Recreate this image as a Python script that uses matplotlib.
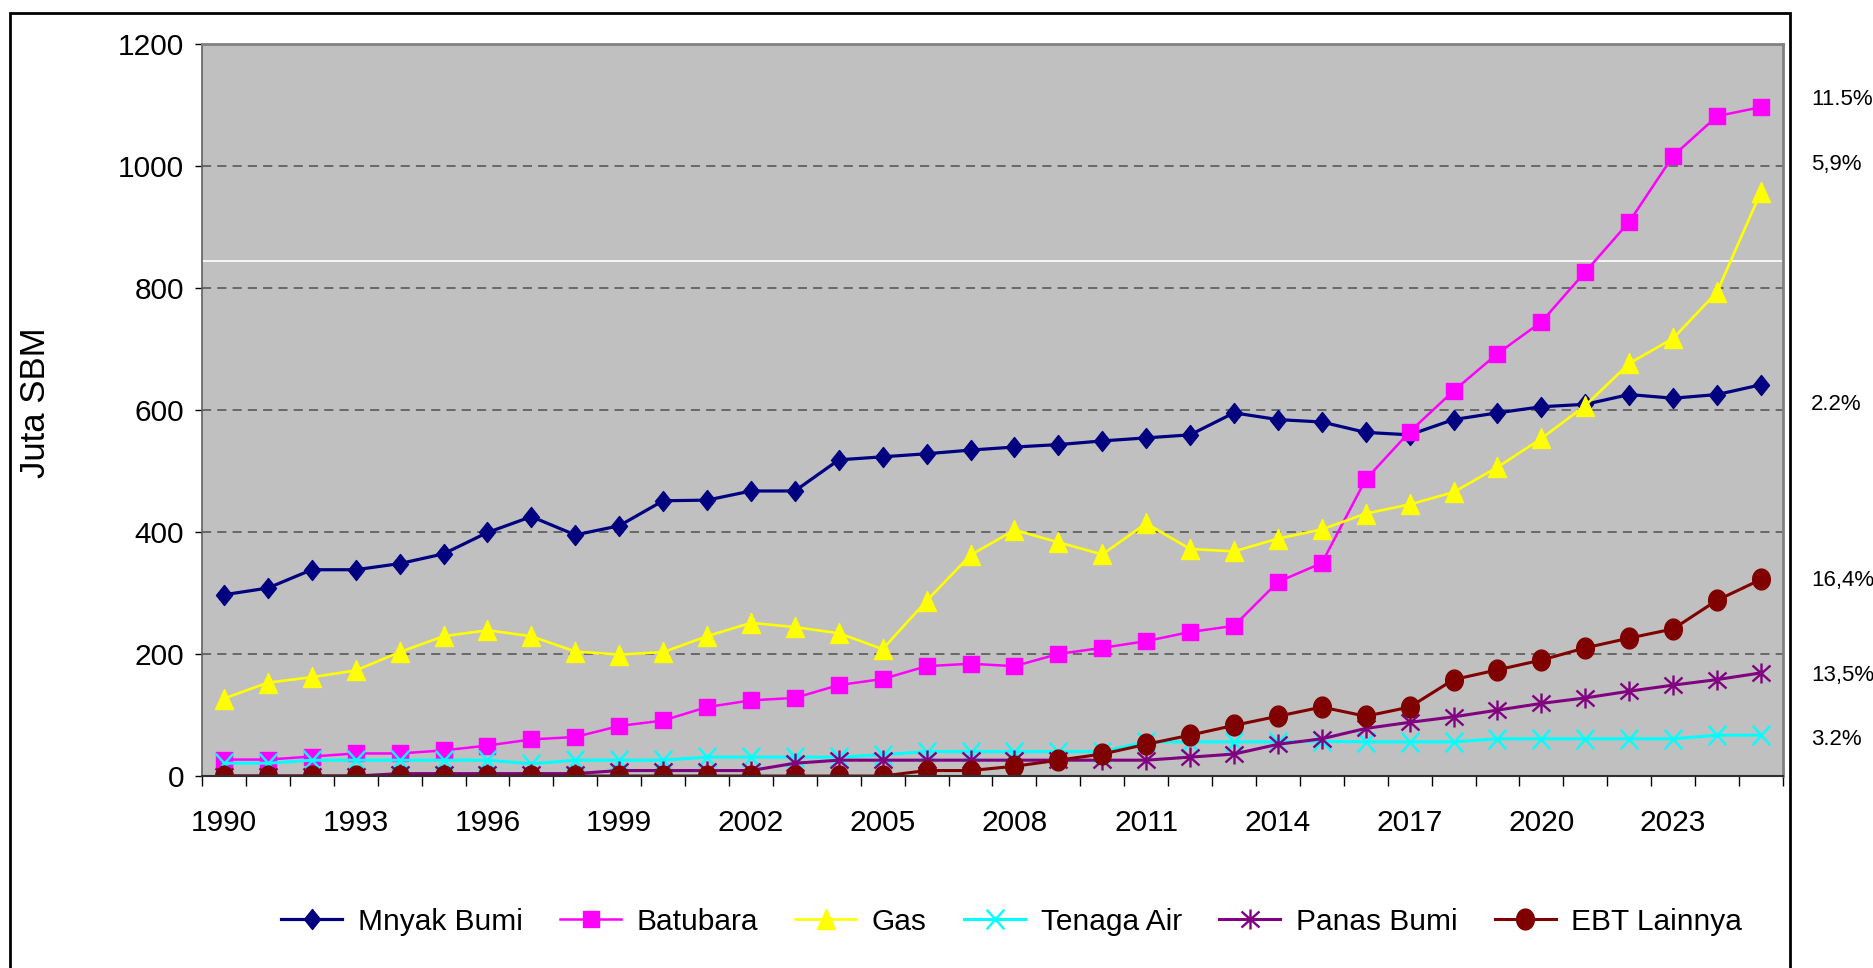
import numpy as np
import matplotlib
matplotlib.use('Agg')
import matplotlib.pyplot as plt
from matplotlib import font_manager
from matplotlib.path import Path
from matplotlib.patches import Rectangle
import matplotlib.transforms as mtransforms

# data (juta SBM)
years = list(range(1990, 2026))
mnyak_bumi = [297, 308, 338, 338, 348, 364, 399, 425, 395, 410,
              451, 452, 467, 467, 518, 523, 528, 534, 539, 543,
              549, 554, 559, 595, 584, 580, 563, 559, 584, 595,
              605, 609, 625, 619, 625, 641]
batubara = [27, 27, 32, 37, 37, 42, 50, 60, 64, 82,
            91, 113, 124, 128, 149, 159, 180, 184, 180, 200,
            210, 221, 236, 246, 318, 349, 486, 564, 631, 692,
            744, 826, 908, 1016, 1081, 1096]
gas = [127, 153, 162, 173, 203, 229, 239, 229, 204, 199,
       203, 229, 251, 244, 234, 208, 287, 362, 403, 383,
       363, 414, 372, 368, 389, 404, 430, 445, 465, 506,
       553, 607, 676, 717, 793, 957]
tenaga_air = [21, 21, 26, 26, 26, 26, 26, 20, 26, 26,
              26, 31, 31, 31, 31, 35, 40, 40, 40, 40,
              40, 56, 56, 56, 56, 57, 56, 56, 56, 61,
              61, 61, 61, 61, 67, 67]
panas_bumi = [0, 0, 0, 0, 4, 4, 4, 4, 4, 9,
              9, 9, 9, 21, 26, 26, 26, 26, 26, 26,
              26, 26, 31, 36, 52, 61, 78, 88, 97, 108,
              119, 128, 139, 149, 158, 169]
ebt_lainnya = [0, 0, 0, 0, 0, 0, 0, 0, 0, 0,
               0, 0, 0, 0, 0, 0, 9, 9, 16, 26,
               36, 52, 67, 83, 98, 113, 98, 113, 158, 174,
               190, 210, 226, 241, 288, 322]

series_names = ['Mnyak Bumi', 'Batubara', 'Gas', 'Tenaga Air', 'Panas Bumi', 'EBT Lainnya']
growth_labels = ['11.5%', '5,9%', '2.2%', '16,4%', '13,5%', '3.2%']
growth_label_y = [1108, 1002, 609, 321, 165, 60]
x_tick_years = list(range(1990, 2024, 3))
y_ticks = [0, 200, 400, 600, 800, 1000, 1200]
white_line_y = 843

# fonts: the original uses a narrow sans; use one if it is there
names = {f.name for f in font_manager.fontManager.ttflist}
if 'Liberation Sans Narrow' in names:
    narrow, tsize = 'Liberation Sans Narrow', 25
else:
    narrow, tsize = 'Liberation Sans', 21.5
plt.rcParams['font.family'] = ['Liberation Sans', 'DejaVu Sans']

# marker shapes
diamond = Path([(0, 1), (0.8, 0), (0, -1), (-0.8, 0), (0, 1)], closed=True)
square = Path([(-1, -1), (1, -1), (1, 1), (-1, 1), (-1, -1)], closed=True)
triangle = Path([(-0.9, -1), (0.9, -1), (0, 1), (-0.9, -1)], closed=True)
cross = Path([(-0.9, -1), (0.9, 1), (-0.9, 1), (0.9, -1)],
             [Path.MOVETO, Path.LINETO, Path.MOVETO, Path.LINETO])
star = Path([(0, -1), (0, 1), (-0.9, -0.8), (0.9, 0.8), (-0.9, 0.8), (0.9, -0.8)],
            [Path.MOVETO, Path.LINETO, Path.MOVETO, Path.LINETO, Path.MOVETO, Path.LINETO])
t = np.linspace(0, 2 * np.pi, 40)
ellipse = Path(np.column_stack([0.85 * np.cos(t), np.sin(t)]), closed=True)

fig = plt.figure(figsize=(18.74, 9.68), dpi=100)
ax = fig.add_axes([0.1078, 0.1983, 0.8436, 0.7567])
ax.set_facecolor('#C0C0C0')

ax.plot(years, mnyak_bumi, color='#000080', lw=2.3, marker=diamond, ms=14.4,
        mfc='#000080', mec='#000080', label=series_names[0])
ax.plot(years, batubara, color='#FF00FF', lw=1.8, marker=square, ms=12.2,
        mfc='#FF00FF', mec='#FF00FF', label=series_names[1])
ax.plot(years, gas, color='#FFFF00', lw=1.9, marker=triangle, ms=14.4,
        mfc='#FFFF00', mec='#FFFF00', label=series_names[2])
ax.plot(years, tenaga_air, color='#00FFFF', lw=2.2, marker=cross, ms=14,
        mfc='none', mec='#00FFFF', mew=1.7, label=series_names[3])
ax.plot(years, panas_bumi, color='#800080', lw=2.2, marker=star, ms=14.4,
        mfc='none', mec='#800080', mew=1.7, label=series_names[4])
ax.plot(years, ebt_lainnya, color='#800000', lw=2.2, marker=ellipse, ms=15,
        mfc='#800000', mec='#800000', label=series_names[5])

ax.axhline(white_line_y, color='white', lw=1.2, zorder=1.5)

ax.set_xlim(1989.5, 2025.5)
ax.set_ylim(0, 1200)
ax.set_yticks(y_ticks)
ax.set_yticklabels([str(v) for v in y_ticks], fontfamily=narrow, fontsize=tsize)
ax.tick_params(axis='y', direction='out', length=5, width=1, color='black', pad=8)
ax.grid(axis='y', color='#505050', lw=1.1, linestyle=(0, (6, 4)))
ax.set_axisbelow(True)

ax.set_xticks(x_tick_years)
ax.set_xticklabels([str(y) for y in x_tick_years], fontfamily=narrow, fontsize=tsize)
ax.set_xticks(np.arange(1989.5, 2026, 1), minor=True)
ax.tick_params(axis='x', which='major', length=0, pad=24)
ax.tick_params(axis='x', which='minor', direction='out', length=7, width=1, color='black')

for side in ['top', 'right']:
    ax.spines[side].set_color('#808080')
    ax.spines[side].set_linewidth(2)
ax.spines['left'].set_color('#606060')
ax.spines['left'].set_linewidth(1.2)
ax.spines['bottom'].set_color('#303030')
ax.spines['bottom'].set_linewidth(1.5)

ax.set_ylabel('Juta SBM', fontsize=25)
ax.yaxis.set_label_coords(-0.0949, 0.51)

trans = mtransforms.blended_transform_factory(ax.transAxes, ax.transData)
for lab, yv in zip(growth_labels, growth_label_y):
    ax.text(1.0177, yv, lab, transform=trans, fontsize=16, va='center', ha='left',
            clip_on=False)

fig.legend(loc='center', bbox_to_anchor=(0.5398, 0.0478), ncol=6, frameon=False,
           prop={'family': narrow, 'size': tsize}, handlelength=44 / tsize,
           handletextpad=11 / tsize, columnspacing=27 / tsize)

# outer chart border
fig.patches.append(Rectangle((9.8 / 1874, -0.05), (1790 - 9.8) / 1874, 1.05 - 12.7 / 968,
                             transform=fig.transFigure, fill=False, edgecolor='black',
                             lw=2, zorder=10))

fig.savefig('out.png', dpi=100)
